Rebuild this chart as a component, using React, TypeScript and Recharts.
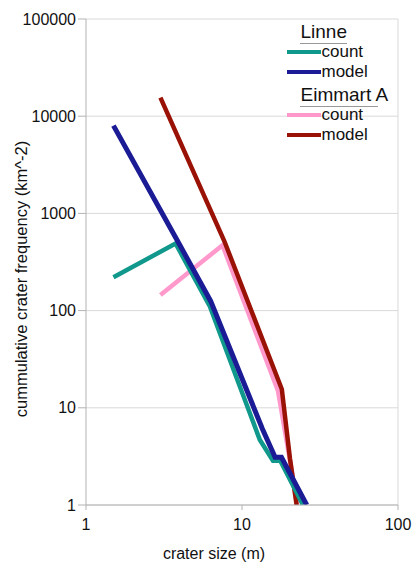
import {
  CartesianGrid,
  Label,
  Legend,
  Line,
  LineChart,
  ReferenceLine,
  XAxis,
  YAxis,
} from "recharts";

const FONT = '"Liberation Sans", Arial, sans-serif';

// crater size (m) / cumulative frequency (km^-2)
const linneCountX = [1.5, 3.75, 6.2, 13, 15.8, 17.6, 24.6];
const linneCountY = [220, 490, 112, 4.7, 2.85, 2.85, 1];
const linneModelX = [1.5, 4, 6.3, 13.5, 16.3, 17.9, 26];
const linneModelY = [8000, 470, 125, 6.1, 3.1, 3.1, 1];
const eimmartCountX = [3, 7.5, 17, 20.8, 22.5];
const eimmartCountY = [145, 470, 15, 2.3, 1];
const eimmartModelX = [3, 7.7, 18, 20.3, 22.4];
const eimmartModelY = [15500, 520, 15.5, 3, 1];

const xTicks = [1, 10, 100];
const yTicks = [1, 10, 100, 1000, 10000, 100000];

const COLORS = {
  teal: "#0f988b",
  blue: "#1b1b95",
  pink: "#ff99cc",
  red: "#9a1206",
  grid: "#d9d9d9",
  axis: "#b3b3b3",
  text: "#111",
};

const zip = (xs: number[], ys: number[]) => xs.map((x, i) => ({ x, y: ys[i] }));

const legendGroups = [
  {
    title: "Linne",
    underline: 47,
    items: [
      { name: "count", color: COLORS.teal },
      { name: "model", color: COLORS.blue },
    ],
  },
  {
    title: "Eimmart A",
    underline: 78,
    items: [
      { name: "count", color: COLORS.pink },
      { name: "model", color: COLORS.red },
    ],
  },
];

// Two titled groups, like the spreadsheet legend it copies.
function GroupedLegend() {
  const rows: React.ReactNode[] = [];
  let cy = 13.5;
  legendGroups.forEach((g) => {
    rows.push(
      <div
        key={g.title}
        style={{ position: "absolute", left: 14.5, top: cy - 10, lineHeight: "20px", fontSize: 19 }}
      >
        {g.title}
      </div>,
      <div
        key={g.title + "-u"}
        style={{ position: "absolute", left: 14, top: cy + 11, width: g.underline, height: 1, background: "#999" }}
      />,
    );
    cy += 20;
    g.items.forEach((it) => {
      rows.push(
        <div key={g.title + it.name} style={{ position: "absolute", left: 0.5, top: cy - 10, height: 20 }}>
          <span
            style={{ position: "absolute", left: 0, top: 8, width: 34, height: 4.5, background: it.color }}
          />
          <span style={{ position: "absolute", left: 35, top: 0, lineHeight: "20px", fontSize: 17 }}>
            {it.name}
          </span>
        </div>,
      );
      cy += 20;
    });
    cy += 3;
  });
  return (
    <div style={{ position: "relative", width: 126, height: 130, fontFamily: FONT, color: COLORS.text }}>
      {rows}
    </div>
  );
}

export default function App() {
  const tick = { fill: COLORS.text, fontSize: 16, fontFamily: FONT };
  return (
    <div style={{ position: "absolute", left: 0, top: 0, background: "#fff" }}>
      <LineChart width={412} height={564} margin={{ top: 19, right: 14, bottom: 0, left: 0 }}>
        <CartesianGrid vertical={false} stroke={COLORS.grid} />
        <XAxis
          type="number"
          dataKey="x"
          scale="log"
          domain={[1, 100]}
          ticks={xTicks}
          allowDataOverflow
          height={59}
          tickSize={5}
          tickMargin={9}
          stroke={COLORS.axis}
          tick={tick}
        >
          <Label
            content={({ viewBox }: any) => (
              <text
                x={viewBox.x + viewBox.width / 2 - 28}
                y={559}
                textAnchor="middle"
                fontSize={16}
                fontFamily={FONT}
                fill={COLORS.text}
              >
                crater size (m)
              </text>
            )}
          />
        </XAxis>
        <YAxis
          type="number"
          dataKey="y"
          scale="log"
          domain={[1, 100000]}
          ticks={yTicks}
          allowDataOverflow
          width={86}
          tickSize={8}
          tickMargin={2}
          stroke={COLORS.axis}
          tick={tick}
        >
          <Label
            content={({ viewBox }: any) => {
              const cx = 21;
              const cy = viewBox.y + viewBox.height / 2 + 17;
              return (
                <text
                  x={cx}
                  y={cy}
                  transform={`rotate(-90, ${cx}, ${cy})`}
                  textAnchor="middle"
                  dominantBaseline="central"
                  fontSize={16.5}
                  fontFamily={FONT}
                  fill={COLORS.text}
                >
                  cummulative crater frequency (km^-2)
                </text>
              );
            }}
          />
        </YAxis>
        <ReferenceLine x={100} stroke={COLORS.grid} />
        <Line
          data={zip(eimmartCountX, eimmartCountY)}
          dataKey="y"
          stroke={COLORS.pink}
          strokeWidth={4.5}
          dot={false}
          isAnimationActive={false}
        />
        <Line
          data={zip(eimmartModelX, eimmartModelY)}
          dataKey="y"
          stroke={COLORS.red}
          strokeWidth={4.5}
          dot={false}
          isAnimationActive={false}
        />
        <Line
          data={zip(linneCountX, linneCountY)}
          dataKey="y"
          stroke={COLORS.teal}
          strokeWidth={4.5}
          dot={false}
          isAnimationActive={false}
        />
        <Line
          data={zip(linneModelX, linneModelY)}
          dataKey="y"
          stroke={COLORS.blue}
          strokeWidth={5}
          dot={false}
          isAnimationActive={false}
        />
        <Legend
          layout="vertical"
          align="center"
          verticalAlign="middle"
          content={() => <GroupedLegend />}
          wrapperStyle={{ left: 286, top: 18, width: 126, height: 130 }}
        />
      </LineChart>
    </div>
  );
}
